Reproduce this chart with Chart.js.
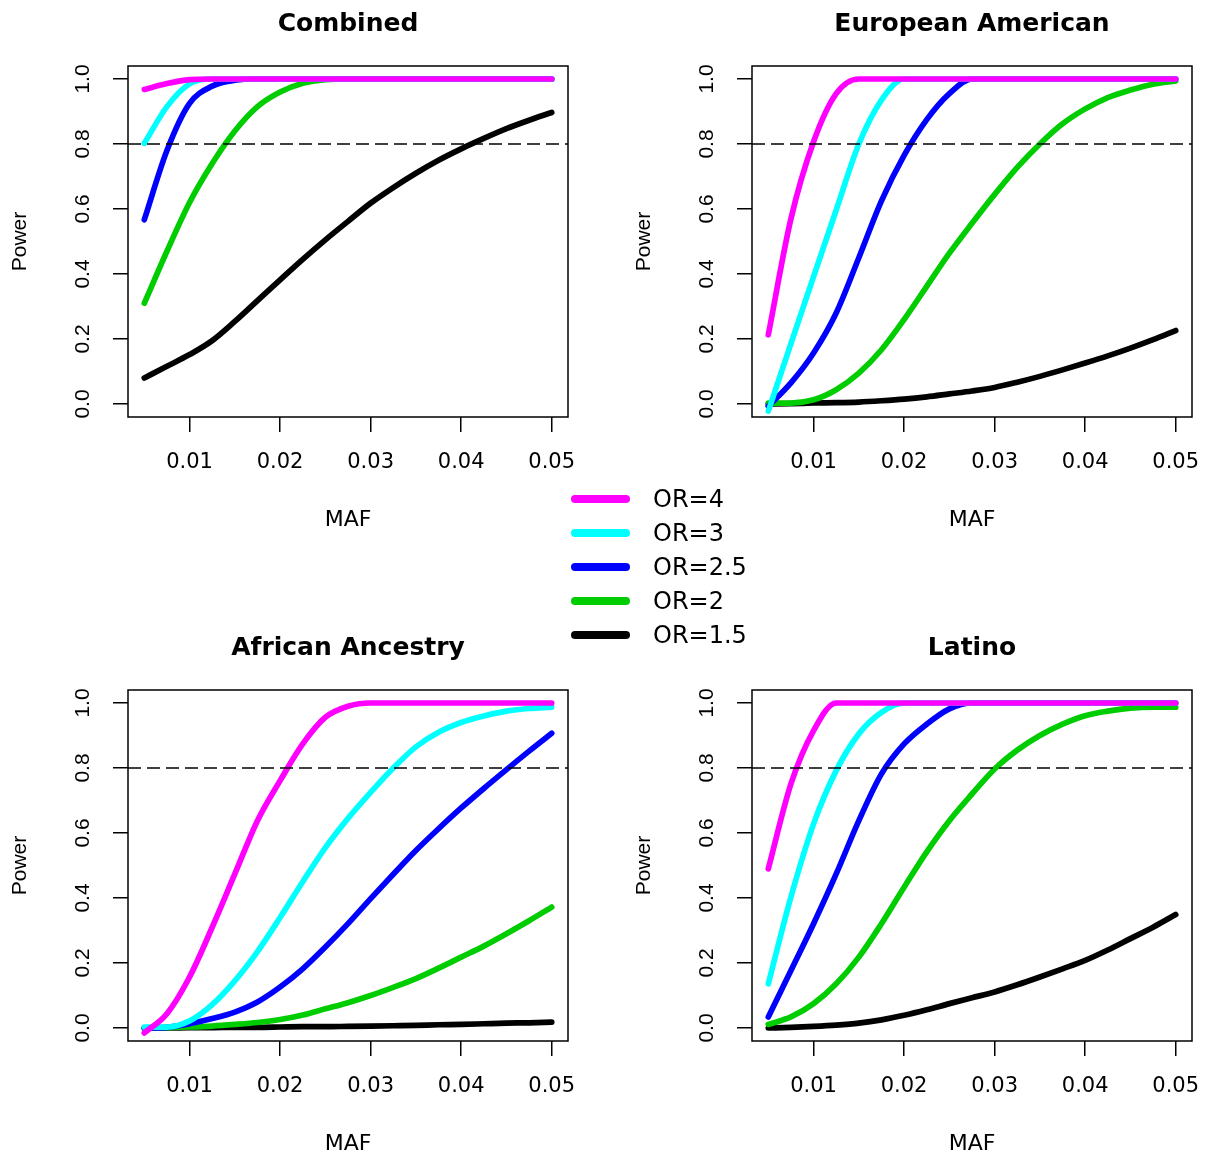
<!DOCTYPE html>
<html>
<head>
<meta charset="utf-8">
<script src="https://cdn.jsdelivr.net/npm/chart.js@4.4.1/dist/chart.umd.min.js"></script>
<style>
  body { margin: 0; background: #fff; }
  #wrap { position: relative; width: 1206px; height: 1157px; }
  #wrap canvas { position: absolute; }
  .legLine { position: absolute; left: 571px; width: 59px; height: 8px; border-radius: 4px; }
  .legText { position: absolute; left: 653px; font-family: 'DejaVu Sans'; font-size: 24px; line-height: 30px; color: #000; white-space: nowrap; }
</style>
</head>
<body>
<div id="wrap">
  <canvas id="p0" width="582" height="533" style="left:0px;top:0px"></canvas>
  <canvas id="p1" width="582" height="533" style="left:624px;top:0px"></canvas>
  <canvas id="p2" width="582" height="533" style="left:0px;top:624px"></canvas>
  <canvas id="p3" width="582" height="533" style="left:624px;top:624px"></canvas>
  <div id="legend"></div>
</div>
<script>
// minor allele frequency grid
const maf = [0.005, 0.0075, 0.01, 0.0125, 0.015, 0.0175, 0.02, 0.0225, 0.025, 0.0275,
             0.03, 0.0325, 0.035, 0.0375, 0.04, 0.0425, 0.045, 0.0475, 0.05];
const xTicks = [0.01, 0.02, 0.03, 0.04, 0.05];
const yTicks = [0, 0.2, 0.4, 0.6, 0.8, 1.0];
const powerLine = 0.8;

const panelTitles = ['Combined', 'European American', 'African Ancestry', 'Latino'];
const orLabels = ['OR=4', 'OR=3', 'OR=2.5', 'OR=2', 'OR=1.5'];
const orColors = ['#ff00ff', '#00ffff', '#0000ff', '#00cd00', '#000000'];

// power, one row per OR (4, 3, 2.5, 2, 1.5)
const powerCombined = [
  [0.968, 0.986, 0.998, 1, 1, 1, 1, 1, 1, 1, 1, 1, 1, 1, 1, 1, 1, 1, 1],
  [0.802, 0.915, 0.985, 1, 1, 1, 1, 1, 1, 1, 1, 1, 1, 1, 1, 1, 1, 1, 1],
  [0.567, 0.78, 0.925, 0.978, 0.996, 1, 1, 1, 1, 1, 1, 1, 1, 1, 1, 1, 1, 1, 1],
  [0.31, 0.47, 0.62, 0.74, 0.84, 0.915, 0.96, 0.987, 0.998, 1, 1, 1, 1, 1, 1, 1, 1, 1, 1],
  [0.08, 0.116, 0.152, 0.195, 0.254, 0.318, 0.382, 0.445, 0.505, 0.562, 0.618, 0.666, 0.71, 0.75, 0.785, 0.817, 0.847, 0.873, 0.897]
];
const powerEuropean = [
  [0.213, 0.57, 0.807, 0.955, 1, 1, 1, 1, 1, 1, 1, 1, 1, 1, 1, 1, 1, 1, 1],
  [-0.022, 0.186, 0.392, 0.597, 0.80, 0.935, 1, 1, 1, 1, 1, 1, 1, 1, 1, 1, 1, 1, 1],
  [-0.007, 0.065, 0.157, 0.28, 0.45, 0.625, 0.765, 0.875, 0.955, 1, 1, 1, 1, 1, 1, 1, 1, 1, 1],
  [0.003, 0.003, 0.013, 0.044, 0.095, 0.167, 0.26, 0.362, 0.464, 0.556, 0.645, 0.728, 0.8, 0.862, 0.908, 0.943, 0.966, 0.984, 0.994],
  [0, 0.001, 0.003, 0.004, 0.006, 0.01, 0.015, 0.022, 0.031, 0.04, 0.051, 0.067, 0.085, 0.105, 0.126, 0.148, 0.172, 0.198, 0.226]
];
const powerAfrican = [
  [-0.015, 0.044, 0.157, 0.31, 0.474, 0.638, 0.761, 0.874, 0.956, 0.99, 1, 1, 1, 1, 1, 1, 1, 1, 1],
  [0.003, 0.003, 0.022, 0.072, 0.145, 0.235, 0.34, 0.45, 0.555, 0.645, 0.725, 0.80, 0.865, 0.91, 0.94, 0.96, 0.975, 0.983, 0.987],
  [0, 0.002, 0.013, 0.029, 0.049, 0.08, 0.126, 0.182, 0.249, 0.321, 0.398, 0.473, 0.546, 0.613, 0.677, 0.737, 0.795, 0.852, 0.907],
  [0, 0.001, 0.003, 0.006, 0.011, 0.017, 0.026, 0.04, 0.059, 0.078, 0.1, 0.125, 0.152, 0.184, 0.218, 0.252, 0.29, 0.33, 0.372],
  [0, 0, 0.001, 0.001, 0.002, 0.002, 0.003, 0.004, 0.004, 0.005, 0.006, 0.007, 0.008, 0.01, 0.011, 0.013, 0.015, 0.016, 0.018]
];
const powerLatino = [
  [0.49, 0.751, 0.915, 1, 1, 1, 1, 1, 1, 1, 1, 1, 1, 1, 1, 1, 1, 1, 1],
  [0.136, 0.403, 0.628, 0.792, 0.905, 0.971, 1, 1, 1, 1, 1, 1, 1, 1, 1, 1, 1, 1, 1],
  [0.034, 0.177, 0.321, 0.474, 0.638, 0.782, 0.874, 0.935, 0.982, 1, 1, 1, 1, 1, 1, 1, 1, 1, 1],
  [0.011, 0.034, 0.075, 0.136, 0.218, 0.321, 0.433, 0.542, 0.638, 0.72, 0.797, 0.855, 0.9, 0.935, 0.961, 0.975, 0.984, 0.987, 0.987],
  [0, 0.002, 0.005, 0.009, 0.015, 0.025, 0.039, 0.056, 0.075, 0.093, 0.111, 0.133, 0.157, 0.182, 0.208, 0.24, 0.275, 0.31, 0.349]
];
const panelData = [powerCombined, powerEuropean, powerAfrican, powerLatino];

// R style axis range: data range extended by 4%
const xMin = 0.005 - 0.045 * 0.04, xMax = 0.05 + 0.045 * 0.04;
const yMin = -0.04, yMax = 1.04;

// box, dashed power line and bold title like base R plots
const rStyle = {
  id: 'rStyle',
  afterDatasetsDraw(chart) {
    const ctx = chart.ctx, a = chart.chartArea;
    const y = chart.scales.y.getPixelForValue(powerLine);
    ctx.save();
    ctx.strokeStyle = '#000';
    ctx.lineWidth = 1.6;
    ctx.setLineDash([13, 6]);
    ctx.beginPath();
    ctx.moveTo(a.left, y);
    ctx.lineTo(a.right, y);
    ctx.stroke();
    ctx.restore();
  },
  afterDraw(chart, args, opts) {
    const ctx = chart.ctx, a = chart.chartArea;
    ctx.save();
    ctx.strokeStyle = '#000';
    ctx.lineWidth = 1.5;
    ctx.strokeRect(a.left, a.top, a.right - a.left, a.bottom - a.top);
    ctx.fillStyle = '#000';
    ctx.font = 'bold 25px "DejaVu Sans"';
    ctx.textAlign = 'center';
    ctx.textBaseline = 'middle';
    ctx.fillText(opts.text, (a.left + a.right) / 2, 24);
    ctx.restore();
  }
};

function makePanel(idx) {
  const rows = panelData[idx];
  const datasets = rows.map((vals, k) => ({
    label: orLabels[k],
    data: maf.map((m, i) => ({ x: m, y: vals[i] })),
    borderColor: orColors[k],
    backgroundColor: orColors[k],
    borderWidth: 5.7,
    borderCapStyle: 'round',
    borderJoinStyle: 'round',
    pointRadius: 0,
    cubicInterpolationMode: 'monotone',
    fill: false
  }));

  new Chart(document.getElementById('p' + idx), {
    type: 'line',
    data: { datasets },
    plugins: [rStyle],
    options: {
      responsive: false,
      animation: false,
      events: [],
      layout: { padding: { top: 66, right: 14, left: 0, bottom: 0 } },
      plugins: {
        legend: { display: false },
        tooltip: { enabled: false },
        rStyle: { text: panelTitles[idx] }
      },
      scales: {
        x: {
          type: 'linear',
          min: xMin,
          max: xMax,
          afterFit(s) { s.height = 116; s.paddingLeft = 0; s.paddingRight = 0; },
          afterBuildTicks(s) { s.ticks = xTicks.map(v => ({ value: v })); },
          grid: { display: true, drawOnChartArea: false, drawTicks: true, tickLength: 15, color: '#000', lineWidth: 1.5 },
          border: { display: false },
          ticks: {
            color: '#000', padding: 18, maxRotation: 0, autoSkip: false,
            font: { family: 'DejaVu Sans', size: 21 },
            callback: v => v.toFixed(2)
          },
          title: { display: true, text: 'MAF', color: '#000', font: { family: 'DejaVu Sans', size: 22 }, padding: { top: 0, bottom: 0 } }
        },
        y: {
          type: 'linear',
          min: yMin,
          max: yMax,
          afterFit(s) { s.width = 128; s.paddingTop = 0; s.paddingBottom = 0; },
          afterBuildTicks(s) { s.ticks = yTicks.map(v => ({ value: v })); },
          grid: { display: true, drawOnChartArea: false, drawTicks: true, tickLength: 15, color: '#000', lineWidth: 1.5 },
          border: { display: false },
          ticks: {
            color: '#000', padding: 15, minRotation: 90, maxRotation: 90, crossAlign: 'center', autoSkip: false,
            font: { family: 'Liberation Sans', size: 21 },
            callback: v => v.toFixed(1)
          },
          title: { display: true, text: 'Power', color: '#000', font: { family: 'Liberation Sans', size: 21 }, padding: { top: 8, bottom: 0 } }
        }
      }
    }
  });
}

[0, 1, 2, 3].forEach(makePanel);

// centre legend
const legTop = [499, 533, 567, 601, 635];
const legend = document.getElementById('legend');
orLabels.forEach((lab, k) => {
  const line = document.createElement('div');
  line.className = 'legLine';
  line.style.top = (legTop[k] - 4) + 'px';
  line.style.background = orColors[k];
  legend.appendChild(line);
  const txt = document.createElement('div');
  txt.className = 'legText';
  txt.style.top = (legTop[k] - 15) + 'px';
  txt.textContent = lab;
  legend.appendChild(txt);
});
</script>
</body>
</html>
